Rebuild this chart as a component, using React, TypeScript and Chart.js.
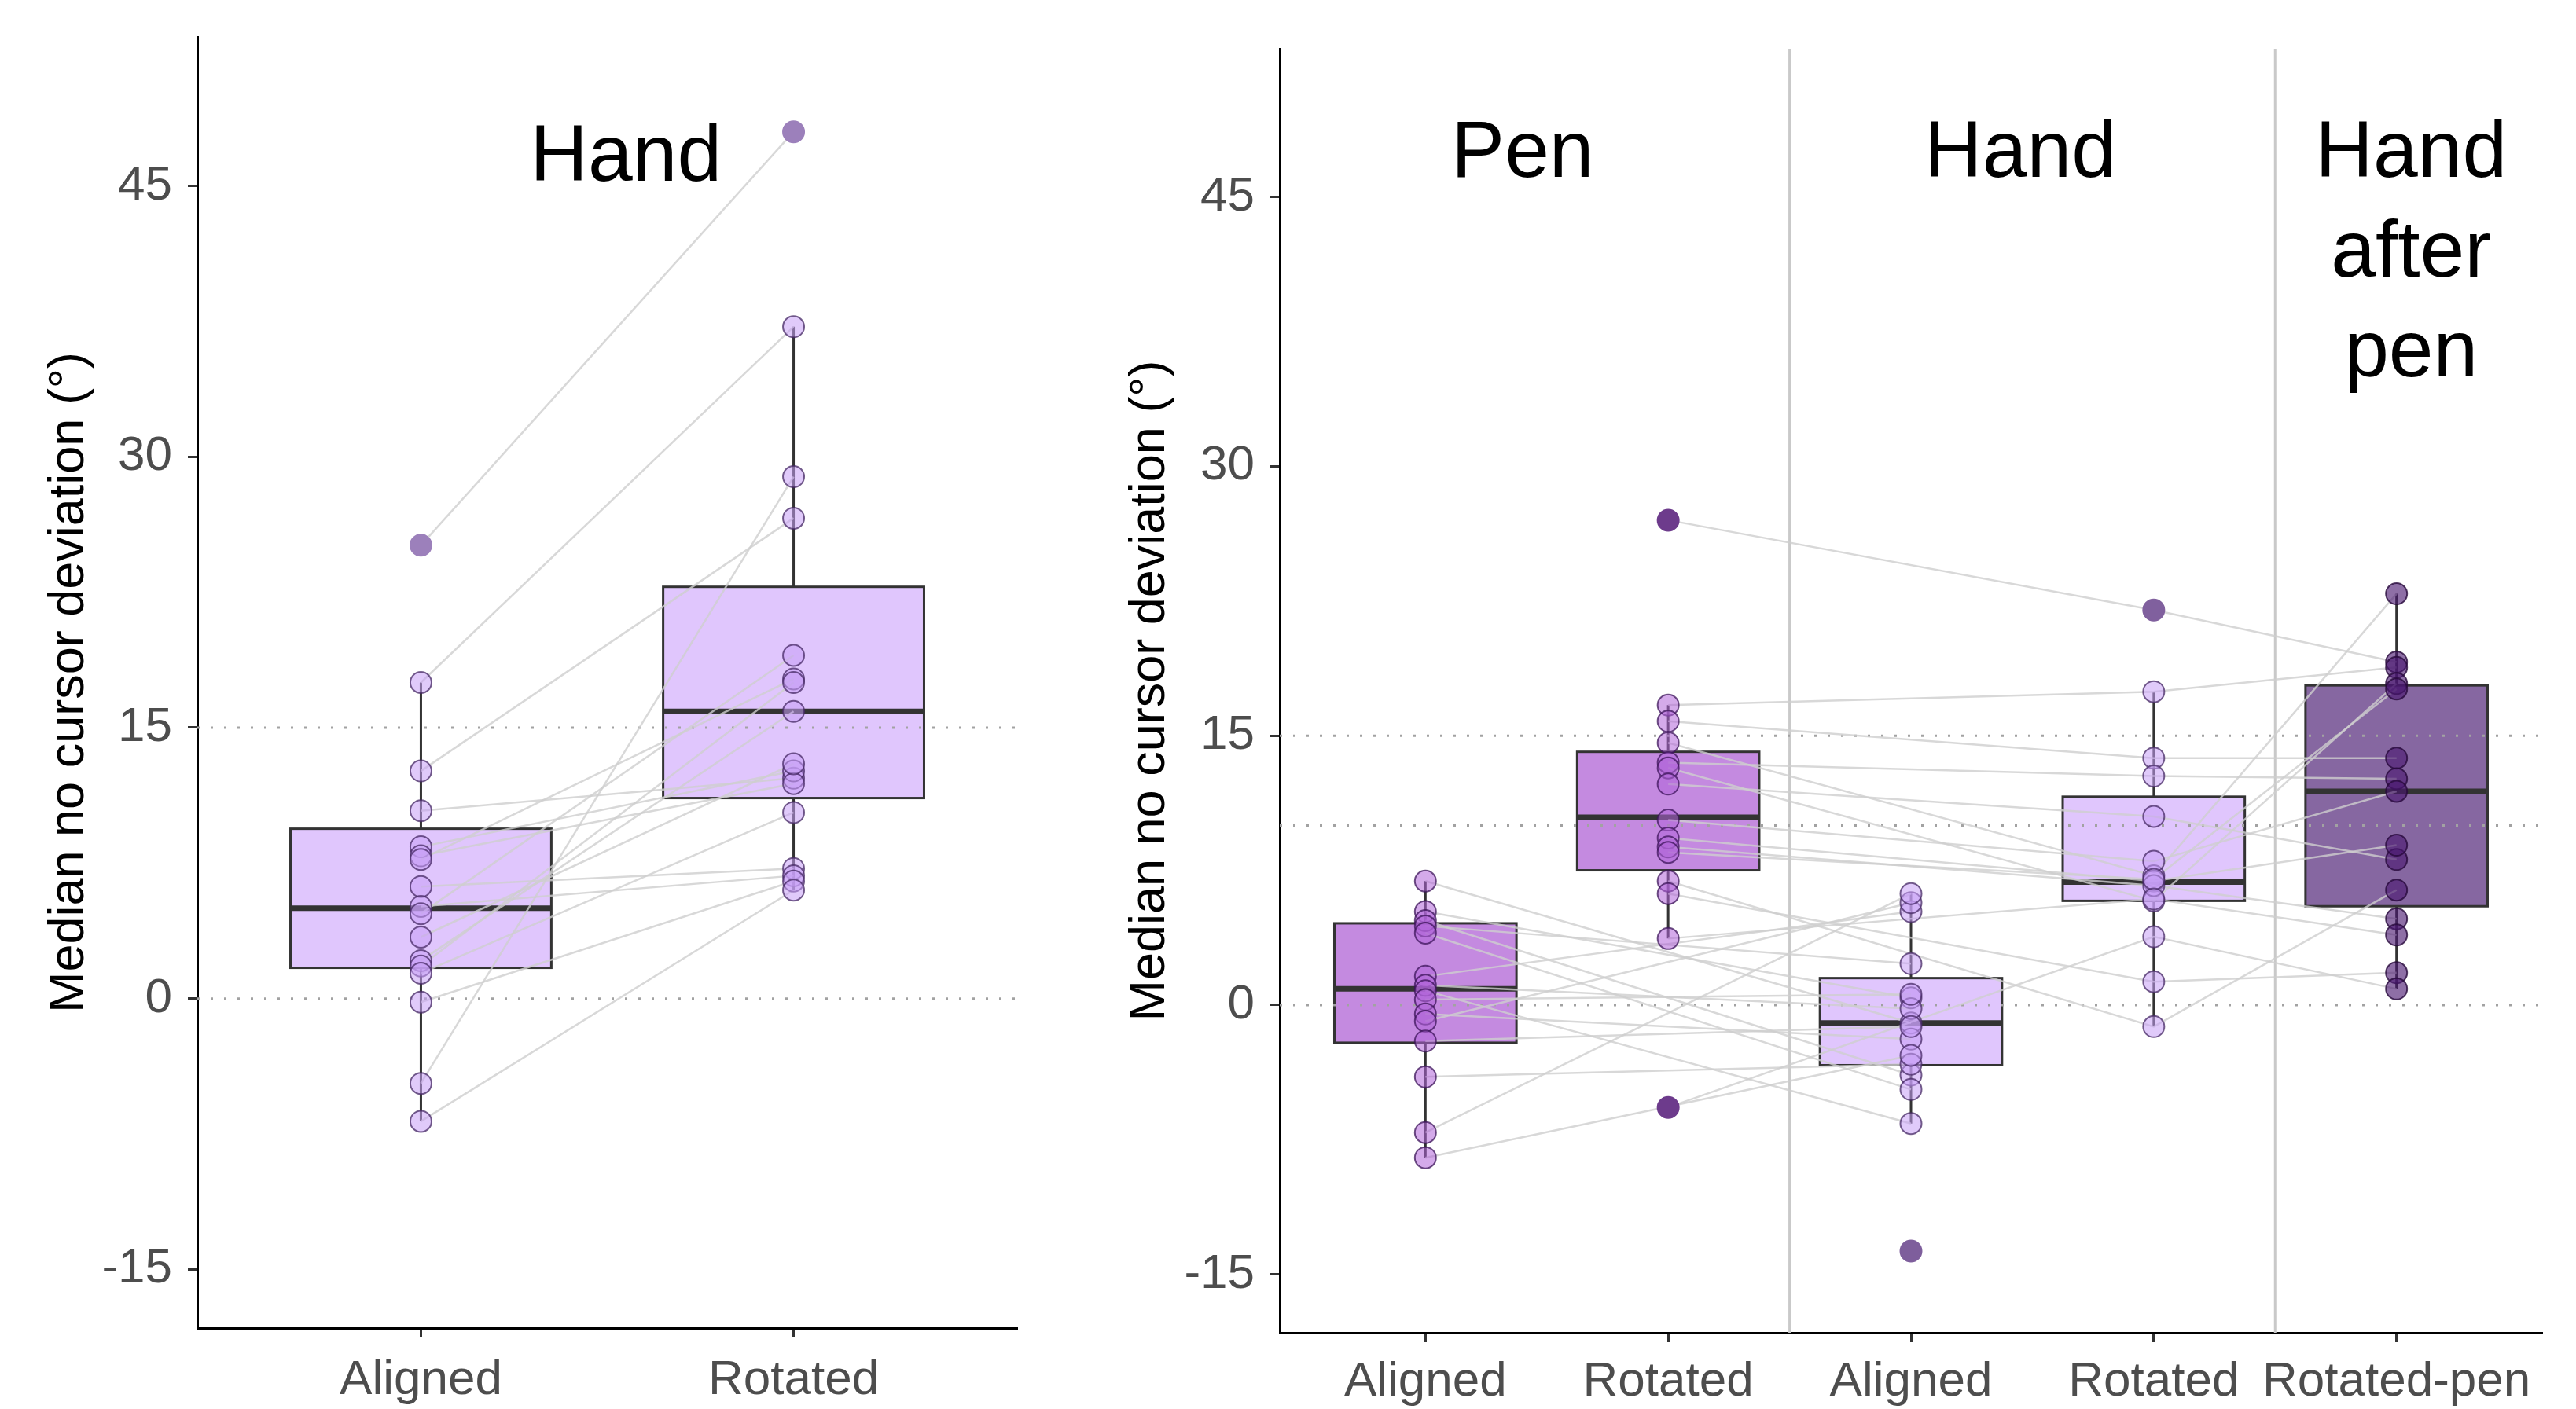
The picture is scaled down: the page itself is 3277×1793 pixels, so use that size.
import React, { useEffect, useRef } from 'react';
import { Chart, registerables } from 'chart.js';

Chart.register(...registerables);

const FONT = '"Liberation Sans", Arial, Helvetica, sans-serif';

// ---------- shared axis ----------
const yTicks = [-15, 0, 15, 30, 45];
const yMin = -18.25;
const yMax = 53.25;
const yTitle = 'Median no cursor deviation (°)';

// ---------- left panel (Hand only) ----------
const leftCategories = ['Aligned', 'Rotated'];
const leftAligned = [25.1, 17.5, 12.6, 10.4, 8.4, 7.9, 7.7, 6.2, 5.1, 4.7, 3.4, 2.1, 1.8, 1.4, -0.2, -4.7, -6.8];
const leftRotated = [48.0, 37.2, 26.6, 12.2, 12.6, 11.9, 17.7, 7.2, 6.8, 19.0, 13.0, 15.9, 17.5, 10.3, 6.5, 28.9, 6.0];
const leftLowerWhisker = [-6.8, 6.0];
const leftQ1 = [1.7, 11.1];
const leftMedian = [5.0, 15.9];
const leftQ3 = [9.4, 22.8];
const leftUpperWhisker = [17.5, 37.2];
const leftRefLines = [0, 15];
const leftGroups = ['hand', 'hand'];

// ---------- right panel (Pen / Hand / Hand after pen) ----------
const rightCategories = ['Aligned', 'Rotated', 'Aligned', 'Rotated', 'Rotated-pen'];
const penAligned = [6.9, 5.2, 4.7, 4.4, 4.0, 1.6, 1.1, 0.8, 0.3, -0.5, -0.9, -2.0, -4.0, -7.1, -8.5, null];
const penRotated = [27.0, 16.7, 15.8, 14.6, 13.5, 13.2, 12.3, 10.3, 9.3, 8.8, 8.5, 6.9, 6.2, 3.7, -5.7, null];
const handAligned = [-1.0, 0.4, -3.9, 2.3, -4.7, 5.2, -0.2, -6.6, 0.6, -1.9, 5.7, -1.2, -3.3, 6.2, -2.8, -13.7];
const handRotated = [22.0, 17.45, 13.75, 7.2, 12.75, 5.8, 10.5, 8.0, 6.9, 6.65, 7.0, -1.2, 1.3, 5.9, 3.8, null];
const rotatedPen = [19.1, 18.8, 13.75, 22.9, 12.6, 17.9, 8.1, 11.9, 8.9, 4.8, 17.6, 6.4, 1.8, 3.9, 0.9, null];
const rightLowerWhisker = [-8.5, 3.7, -6.6, -1.2, 0.9];
const rightQ1 = [-2.1, 7.5, -3.35, 5.8, 5.5];
const rightMedian = [0.9, 10.45, -1.0, 6.85, 11.9];
const rightQ3 = [4.55, 14.1, 1.5, 11.6, 17.8];
const rightUpperWhisker = [6.9, 16.7, 6.2, 17.45, 22.9];
const rightRefLines = [0, 10, 15];
const rightSeparators = [2.5, 4.5];
const rightGroups = ['pen', 'pen', 'hand', 'hand', 'after'];
// participant links: aligned conditions joined, rotated conditions joined
const rightLinks = [[0, 2], [1, 3, 4]];
const leftLinks = [[0, 1]];

const STYLE: any = {
  hand: { box: '#E0C6FD', fill: 'rgba(198,158,246,0.55)', border: 'rgba(70,40,100,0.75)' },
  pen: { box: '#C48AE0', fill: 'rgba(176,100,216,0.55)', border: 'rgba(60,20,90,0.75)' },
  after: { box: '#8667A1', fill: 'rgba(72,22,112,0.62)', border: 'rgba(40,10,60,0.8)' },
};
const leftOutlierColors = ['#9C80BB', '#9C80BB'];
const rightOutlierColors = ['#6D3B8C', '#6D3B8C', '#7E5E9C', '#80609E', '#5A2E80'];

function makePanel(spec: any) {
  const {
    categories, columns, lower, q1, median, q3, upper, groups, outlierColors,
    links, refLines, separators, boxWidth, annotations,
  } = spec;

  const datasets: any[] = [];
  columns.forEach((vals: any[], ci: number) => {
    const pts = vals.filter((v) => v !== null && v !== undefined).map((v) => ({ x: ci + 1, y: v }));
    const st = STYLE[groups[ci]];
    const isOut = (v: number) => v > upper[ci] + 1e-9 || v < lower[ci] - 1e-9;
    datasets.push({
      data: pts,
      order: 0,
      showLine: false,
      pointRadius: 13.5,
      pointBorderWidth: 2,
      pointBackgroundColor: pts.map((p) => (isOut(p.y) ? outlierColors[ci] : st.fill)),
      pointBorderColor: pts.map((p) => (isOut(p.y) ? outlierColors[ci] : st.border)),
    });
  });
  const n = columns[0].length;
  links.forEach((link: number[]) => {
    for (let i = 0; i < n; i++) {
      const pts = link
        .map((ci) => ({ x: ci + 1, y: columns[ci][i] }))
        .filter((p) => p.y !== null && p.y !== undefined);
      if (pts.length < 2) continue;
      datasets.push({
        data: pts,
        order: 1,
        showLine: true,
        borderColor: 'rgba(206,206,206,0.8)',
        borderWidth: 2.5,
        pointRadius: 0,
        tension: 0,
        fill: false,
      });
    }
  });

  const plugin = {
    id: 'panelDecor',
    beforeDatasetsDraw(chart: any) {
      const { ctx, chartArea } = chart;
      const x = chart.scales.x;
      const y = chart.scales.y;
      ctx.save();
      // facet separators
      ctx.strokeStyle = '#C9C9C9';
      ctx.lineWidth = 3;
      separators.forEach((s: number) => {
        const px = x.getPixelForValue(s);
        ctx.beginPath();
        ctx.moveTo(px, chartArea.top);
        ctx.lineTo(px, chartArea.bottom);
        ctx.stroke();
      });
      // boxes
      categories.forEach((_: string, i: number) => {
        const cx = x.getPixelForValue(i + 1);
        const hw = x.getPixelForValue(i + 1 + boxWidth / 2) - cx;
        const yq1 = y.getPixelForValue(q1[i]);
        const yq3 = y.getPixelForValue(q3[i]);
        const ymed = y.getPixelForValue(median[i]);
        const ylo = y.getPixelForValue(lower[i]);
        const yhi = y.getPixelForValue(upper[i]);
        ctx.strokeStyle = '#333333';
        ctx.lineWidth = 3;
        ctx.beginPath();
        ctx.moveTo(cx, yq3);
        ctx.lineTo(cx, yhi);
        ctx.moveTo(cx, yq1);
        ctx.lineTo(cx, ylo);
        ctx.stroke();
        ctx.fillStyle = STYLE[groups[i]].box;
        ctx.fillRect(cx - hw, yq3, hw * 2, yq1 - yq3);
        ctx.strokeRect(cx - hw, yq3, hw * 2, yq1 - yq3);
        ctx.lineWidth = 7;
        ctx.beginPath();
        ctx.moveTo(cx - hw, ymed);
        ctx.lineTo(cx + hw, ymed);
        ctx.stroke();
      });
      // dotted reference lines
      ctx.setLineDash([3, 14]);
      ctx.strokeStyle = '#A2A2A2';
      ctx.lineWidth = 3;
      refLines.forEach((v: number) => {
        const py = y.getPixelForValue(v);
        ctx.beginPath();
        ctx.moveTo(chartArea.left, py);
        ctx.lineTo(chartArea.right, py);
        ctx.stroke();
      });
      ctx.restore();
    },
    afterDatasetsDraw(chart: any) {
      const { ctx } = chart;
      const x = chart.scales.x;
      const y = chart.scales.y;
      ctx.save();
      ctx.font = `102px ${FONT}`;
      ctx.fillStyle = '#000000';
      ctx.textAlign = 'center';
      ctx.textBaseline = 'alphabetic';
      annotations.forEach((a: any) => {
        const px = x.getPixelForValue(a.x);
        const py = y.getPixelForValue(a.y);
        a.lines.forEach((t: string, k: number) => {
          ctx.fillText(t, px, py + k * 127);
        });
      });
      ctx.restore();
    },
  };

  const config: any = {
    type: 'scatter',
    data: { datasets },
    options: {
      animation: false,
      responsive: false,
      devicePixelRatio: 1,
      events: [],
      layout: { padding: spec.padding },
      plugins: { legend: { display: false }, tooltip: { enabled: false }, title: { display: false } },
      scales: {
        x: {
          type: 'linear',
          min: 0.4,
          max: categories.length + 0.6,
          afterBuildTicks: (s: any) => {
            s.ticks = categories.map((_: string, i: number) => ({ value: i + 1 }));
          },
          afterFit: (s: any) => {
            s.height = spec.xAxisHeight;
            s.paddingLeft = 0;
            s.paddingRight = 0;
          },
          ticks: {
            callback: (v: any) => categories[Math.round(v) - 1] ?? '',
            font: { family: FONT, size: 62 },
            color: '#4D4D4D',
            padding: spec.xTickPadding,
            maxRotation: 0,
            minRotation: 0,
            autoSkip: false,
          },
          grid: { display: true, drawOnChartArea: false, drawTicks: true, tickLength: 12, tickWidth: 3, tickColor: '#333333' },
          border: { display: true, color: '#000000', width: 3 },
        },
        y: {
          type: 'linear',
          min: yMin,
          max: yMax,
          afterBuildTicks: (s: any) => {
            s.ticks = yTicks.map((v) => ({ value: v }));
          },
          afterFit: (s: any) => {
            s.width = spec.yAxisWidth;
            s.paddingTop = 0;
            s.paddingBottom = 0;
          },
          ticks: {
            font: { family: FONT, size: 62 },
            color: '#4D4D4D',
            padding: 20,
            callback: (v: any) => String(v),
          },
          grid: { display: true, drawOnChartArea: false, drawTicks: true, tickLength: 12, tickWidth: 3, tickColor: '#333333' },
          border: { display: true, color: '#000000', width: 3 },
          title: {
            display: true,
            text: yTitle,
            font: { family: FONT, size: 63, lineHeight: 1.2 },
            color: '#000000',
            padding: 0,
          },
        },
      },
    },
    plugins: [plugin],
  };
  return config;
}

const leftSpec = {
  categories: leftCategories,
  columns: [leftAligned, leftRotated],
  lower: leftLowerWhisker,
  q1: leftQ1,
  median: leftMedian,
  q3: leftQ3,
  upper: leftUpperWhisker,
  groups: leftGroups,
  outlierColors: leftOutlierColors,
  links: leftLinks,
  refLines: leftRefLines,
  separators: [],
  boxWidth: 0.7,
  annotations: [{ lines: ['Hand'], x: 1.55, y: 45.3 }],
  padding: { left: 51, right: 26, top: 47, bottom: 0 },
  yAxisWidth: 200,
  xAxisHeight: 103,
  xTickPadding: 18,
};

const rightSpec = {
  categories: rightCategories,
  columns: [penAligned, penRotated, handAligned, handRotated, rotatedPen],
  lower: rightLowerWhisker,
  q1: rightQ1,
  median: rightMedian,
  q3: rightQ3,
  upper: rightUpperWhisker,
  groups: rightGroups,
  outlierColors: rightOutlierColors,
  links: rightLinks,
  refLines: rightRefLines,
  separators: rightSeparators,
  boxWidth: 0.75,
  annotations: [
    { lines: ['Pen'], x: 1.4, y: 46.1 },
    { lines: ['Hand'], x: 3.45, y: 46.1 },
    { lines: ['Hand', 'after', 'pen'], x: 5.06, y: 46.1 },
  ],
  padding: { left: 106, right: 43, top: 62, bottom: 0 },
  yAxisWidth: 202,
  xAxisHeight: 97,
  xTickPadding: 14,
};

function Panel({ spec, left, width }: any) {
  const ref = useRef<HTMLCanvasElement | null>(null);
  useEffect(() => {
    if (!ref.current) return;
    const chart = new Chart(ref.current, makePanel(spec));
    return () => chart.destroy();
  }, [spec]);
  return (
    <canvas
      ref={ref}
      width={width}
      height={1793}
      style={{ position: 'absolute', left, top: 0, width, height: 1793, display: 'block' }}
    />
  );
}

export default function App() {
  useEffect(() => {
    document.body.style.margin = '0';
    document.body.style.background = '#ffffff';
  }, []);
  return (
    <div style={{ position: 'absolute', left: 0, top: 0, width: 3277, height: 1793, background: '#ffffff', overflow: 'hidden' }}>
      <Panel spec={leftSpec} left={0} width={1320} />
      <Panel spec={rightSpec} left={1320} width={1957} />
    </div>
  );
}
